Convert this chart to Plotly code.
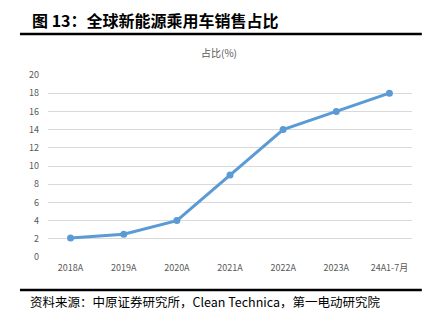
import plotly.graph_objects as go

categories = ["2018A", "2019A", "2020A", "2021A", "2022A", "2023A", "24A1-7月"]
share = [2.1, 2.5, 4.0, 9.0, 14.0, 16.0, 18.0]
y_ticks = [0, 2, 4, 6, 8, 10, 12, 14, 16, 18, 20]

CJK = "Noto Sans CJK SC"

fig = go.Figure()
fig.add_trace(go.Scatter(
    x=categories, y=share, mode="lines+markers",
    line=dict(color="#5B9BD5", width=3),
    marker=dict(color="#5B9BD5", size=7),
    showlegend=False,
))

fig.update_layout(
    width=439, height=334,
    margin=dict(l=48, r=27, t=75, b=77),
    paper_bgcolor="white", plot_bgcolor="white",
    font=dict(family=CJK, color="#595959", size=9),
    xaxis=dict(showgrid=False, showline=False, ticks="", ticklabelstandoff=4,
               tickfont=dict(size=9, color="#595959")),
    yaxis=dict(range=[0, 20], tickvals=y_ticks, showgrid=True,
               gridcolor="#D9D9D9", gridwidth=1, zeroline=False,
               showline=False, ticks="", ticklabelstandoff=8,
               tickfont=dict(size=9, color="#595959")),
    shapes=[
        dict(type="line", xref="paper", yref="paper", x0=-0.077, x1=1.027,
             y0=1.225, y1=1.225, line=dict(color="black", width=2.5)),
        dict(type="line", xref="paper", yref="paper", x0=-0.077, x1=1.027,
             y0=-0.181, y1=-0.181, line=dict(color="black", width=2.5)),
    ],
    annotations=[
        dict(text="<b>图 13：全球新能源乘用车销售占比</b>", xref="paper", yref="paper",
             x=-0.05, y=1.302, xanchor="left", yanchor="middle", showarrow=False,
             font=dict(family=CJK, size=16, color="black")),
        dict(text="占比(%)", xref="paper", yref="paper",
             x=0.47, y=1.126, xanchor="center", yanchor="middle", showarrow=False,
             font=dict(family=CJK, size=10, color="#595959")),
        dict(text="资料来源：中原证券研究所，Clean Technica，第一电动研究院", xref="paper", yref="paper",
             x=-0.055, y=-0.247, xanchor="left", yanchor="middle", showarrow=False,
             font=dict(family=CJK, size=12.5, color="black")),
    ],
)

fig.write_html("out.html")
